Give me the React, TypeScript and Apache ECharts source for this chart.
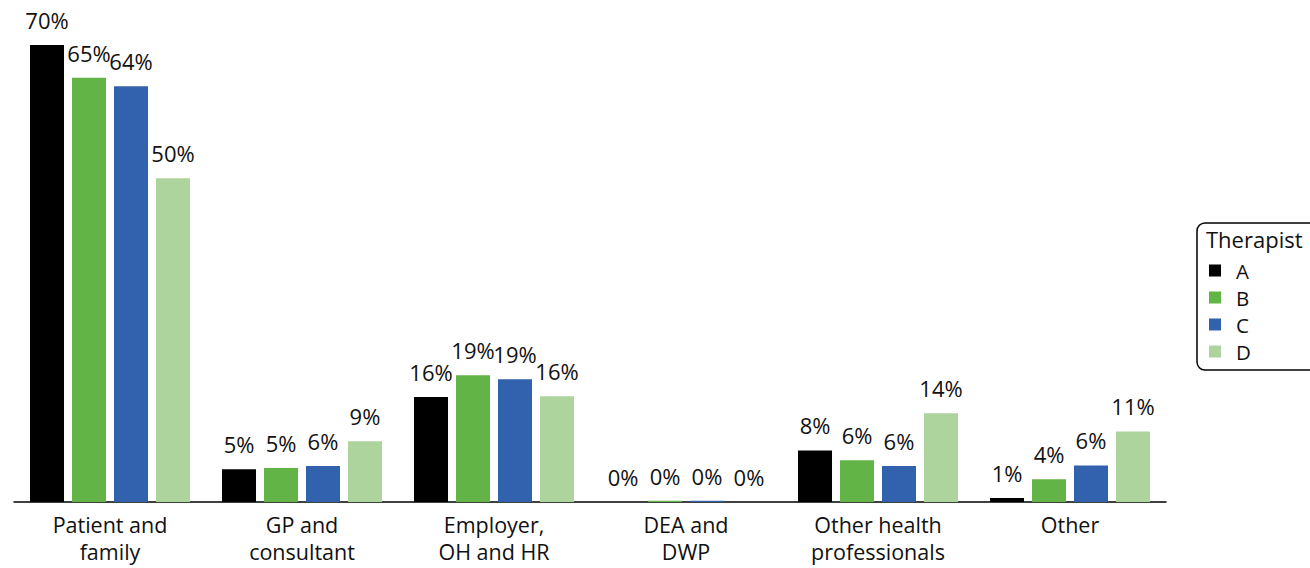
import React, { useEffect, useRef } from "react";
import * as echarts from "echarts";

const categories = [
  "Patient and\nfamily",
  "GP and\nconsultant",
  "Employer,\nOH and HR",
  "DEA and\nDWP",
  "Other health\nprofessionals",
  "Other",
];
const therapists = ["A", "B", "C", "D"];
const valuesA = [70, 5.0, 16.1, 0, 7.9, 0.6];
const valuesB = [65, 5.2, 19.4, 0.2, 6.4, 3.5];
const valuesC = [63.7, 5.5, 18.8, 0.2, 5.5, 5.6];
const valuesD = [49.6, 9.3, 16.2, 0, 13.6, 10.8];
const colors = ["#000000", "#62b446", "#3261ad", "#add49d"];
const legendTitle = "Therapist";

const FONT = "'Open Sans', 'Noto Sans', sans-serif";

export default function App() {
  const ref = useRef<HTMLDivElement>(null);
  useEffect(() => {
    if (!ref.current) return;
    const chart = echarts.init(ref.current, null, { renderer: "svg" });
    const seriesData = [valuesA, valuesB, valuesC, valuesD];
    chart.setOption({
      animation: false,
      textStyle: { fontFamily: FONT },
      grid: { left: 14, top: 45, width: 1152, height: 457, containLabel: false },
      xAxis: {
        type: "category",
        data: categories,
        axisLine: { lineStyle: { color: "#000", width: 1.5 } },
        axisTick: { length: 8, lineStyle: { color: "#000", width: 1.5 } },
        axisLabel: {
          color: "#111",
          fontSize: 21.5,
          lineHeight: 27,
          margin: 9,
          fontFamily: FONT,
          interval: 0,
        },
      },
      yAxis: { type: "value", min: 0, max: 70, show: false },
      legend: {
        data: therapists,
        orient: "vertical",
        left: 1197,
        top: 223,
        padding: [37, 70, 8, 12],
        itemGap: 6,
        itemWidth: 12,
        itemHeight: 12,
        icon: "rect",
        borderColor: "#000",
        borderWidth: 1.5,
        borderRadius: 8,
        textStyle: {
          fontSize: 20.5,
          color: "#111",
          fontFamily: FONT,
          padding: [0, 0, 0, 10],
        },
      },
      graphic: [
        {
          type: "text",
          left: 1206,
          top: 228,
          style: { text: legendTitle, fontSize: 22, fill: "#111", fontFamily: FONT },
        },
      ],
      series: therapists.map((name, i) => ({
        name,
        type: "bar",
        data: seriesData[i],
        barWidth: 34,
        barGap: "23.5%",
        itemStyle: { color: colors[i] },
        label: {
          show: true,
          position: "top",
          distance: 14,
          fontSize: 22,
          color: "#111",
          fontFamily: FONT,
          formatter: (p: any) => Math.round(p.value) + "%",
        },
      })),
    });
    return () => chart.dispose();
  }, []);
  return (
    <div
      ref={ref}
      style={{ position: "fixed", left: 0, top: 0, width: 1310, height: 568, background: "#fff" }}
    />
  );
}
